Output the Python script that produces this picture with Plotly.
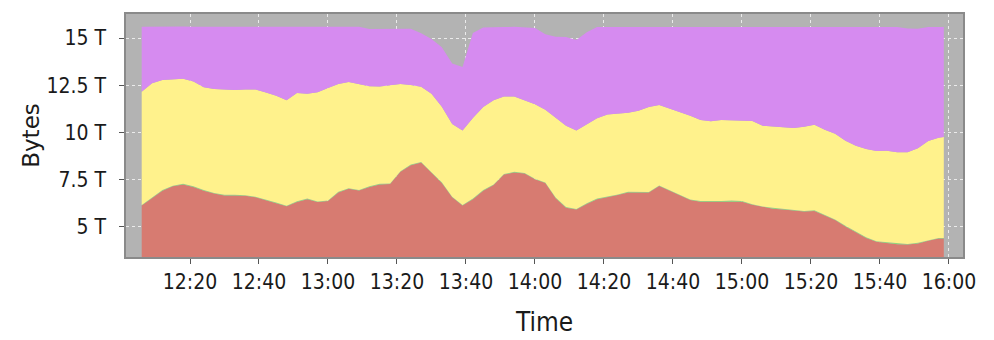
import plotly.graph_objects as go

# ---- data (values in TB) ----
times = ["12:06", "12:09", "12:12", "12:15", "12:18", "12:21", "12:24", "12:27", "12:30", "12:33",
         "12:36", "12:39", "12:42", "12:45", "12:48", "12:51", "12:54", "12:57", "13:00", "13:03",
         "13:06", "13:09", "13:12", "13:15", "13:18", "13:21", "13:24", "13:27", "13:30", "13:33",
         "13:36", "13:39", "13:42", "13:45", "13:48", "13:51", "13:54", "13:57", "14:00", "14:03",
         "14:06", "14:09", "14:12", "14:15", "14:18", "14:21", "14:24", "14:27", "14:30", "14:33",
         "14:36", "14:39", "14:42", "14:45", "14:48", "14:51", "14:54", "14:57", "15:00", "15:03",
         "15:06", "15:09", "15:12", "15:15", "15:18", "15:21", "15:24", "15:27", "15:30", "15:33",
         "15:36", "15:39", "15:42", "15:45", "15:48", "15:51", "15:54", "15:57", "15:58:30"]

series_red = [6.13, 6.52, 6.92, 7.15, 7.25, 7.12, 6.92, 6.77, 6.67, 6.67,
              6.65, 6.57, 6.42, 6.27, 6.09, 6.32, 6.47, 6.32, 6.37, 6.82,
              7.02, 6.93, 7.12, 7.25, 7.27, 7.92, 8.27, 8.41, 7.87, 7.32,
              6.57, 6.13, 6.47, 6.92, 7.22, 7.77, 7.88, 7.83, 7.52, 7.32,
              6.52, 6.02, 5.92, 6.22, 6.47, 6.57, 6.69, 6.82, 6.82, 6.82,
              7.17, 6.92, 6.66, 6.42, 6.34, 6.34, 6.34, 6.37, 6.34, 6.17,
              6.05, 5.97, 5.92, 5.85, 5.82, 5.85, 5.62, 5.37, 5.02, 4.72,
              4.42, 4.22, 4.15, 4.09, 4.07, 4.12, 4.27, 4.39, 4.39]

series_green = [0.03, 0.04, 0.03, 0.03, 0.04, 0.03, 0.03, 0.03, 0.04, 0.03,
                0.03, 0.03, 0.04, 0.03, 0.03, 0.04, 0.03, 0.03, 0.03, 0.04,
                0.03, 0.03, 0.03, 0.04, 0.03, 0.03, 0.04, 0.03, 0.03, 0.04,
                0.03, 0.03, 0.04, 0.03, 0.03, 0.03, 0.04, 0.03, 0.03, 0.03,
                0.04, 0.03, 0.03, 0.04, 0.03, 0.03, 0.03, 0.04, 0.03, 0.03,
                0.03, 0.04, 0.03, 0.03, 0.04, 0.03, 0.03, 0.03, 0.04, 0.03,
                0.03, 0.04, 0.03, 0.03, 0.03, 0.04, 0.03, 0.03, 0.04, 0.03,
                0.03, 0.03, 0.04, 0.03, 0.03, 0.04, 0.03, 0.03, 0.03]

series_yellow = [5.99, 6.05, 5.83, 5.64, 5.55, 5.55, 5.45, 5.50, 5.55, 5.55,
                 5.60, 5.68, 5.65, 5.65, 5.58, 5.73, 5.55, 5.78, 5.95, 5.70,
                 5.62, 5.59, 5.30, 5.14, 5.20, 4.62, 4.20, 3.98, 4.15, 4.00,
                 3.85, 3.94, 4.25, 4.40, 4.45, 4.10, 3.99, 3.84, 3.95, 3.85,
                 4.20, 4.30, 4.15, 4.15, 4.25, 4.35, 4.28, 4.18, 4.30, 4.50,
                 4.25, 4.30, 4.41, 4.43, 4.28, 4.23, 4.29, 4.25, 4.25, 4.41,
                 4.28, 4.30, 4.32, 4.36, 4.45, 4.52, 4.50, 4.53, 4.50, 4.55,
                 4.67, 4.77, 4.84, 4.84, 4.85, 5.00, 5.25, 5.30, 5.34]

series_purple = [3.45, 3.00, 2.82, 2.78, 2.77, 2.90, 3.20, 3.30, 3.35, 3.35,
                 3.32, 3.32, 3.50, 3.65, 3.90, 3.52, 3.55, 3.47, 3.25, 3.05,
                 2.93, 3.05, 3.03, 3.06, 2.98, 2.91, 2.98, 2.83, 2.90, 3.15,
                 3.20, 3.37, 4.50, 4.20, 3.88, 3.68, 3.68, 3.88, 4.03, 4.00,
                 4.30, 4.70, 4.80, 4.90, 4.83, 4.63, 4.58, 4.55, 4.43, 4.23,
                 4.13, 4.33, 4.48, 4.70, 4.93, 4.98, 4.92, 4.93, 4.96, 4.97,
                 5.22, 5.28, 5.31, 5.34, 5.28, 5.18, 5.43, 5.65, 6.03, 6.28,
                 6.46, 6.56, 6.56, 6.62, 6.55, 6.33, 6.03, 5.86, 5.82]

y_tickvals = [5, 7.5, 10, 12.5, 15]
y_ticktext = ["5 T", "7.5 T", "10 T", "12.5 T", "15 T"]
x_tick_times = ["12:20", "12:40", "13:00", "13:20", "13:40", "14:00", "14:20",
                "14:40", "15:00", "15:20", "15:40", "16:00"]

DAY = "2024-01-01 "
x = [DAY + t for t in times]

fig = go.Figure()
layers = [
    ("red", series_red, "#d77b71"),
    ("green", series_green, "#8fd97a"),
    ("yellow", series_yellow, "#fff28c"),
    ("purple", series_purple, "#d68bf0"),
]
for name, vals, col in layers:
    fig.add_trace(go.Scatter(
        x=x, y=vals, name=name, stackgroup="one", mode="lines",
        line=dict(width=0, color=col), fillcolor=col, hoverinfo="skip",
    ))

COND = "DejaVu Sans Condensed, Liberation Sans Narrow, Arial Narrow, sans-serif"
tick_font = dict(family=COND, size=21, color="#1a1a1a")

# page body has an 8px default margin, so the figure is sized to fit the window
fig.update_layout(
    width=986, height=332,
    margin=dict(l=118, r=31, t=6, b=83, autoexpand=False),
    paper_bgcolor="white", plot_bgcolor="#b3b3b3",
    showlegend=False,
)
fig.update_xaxes(
    type="date", automargin=False,
    range=[DAY + "12:01:27", DAY + "16:04:04"],
    tickvals=[DAY + t for t in x_tick_times],
    ticktext=x_tick_times,
    ticks="outside", ticklen=5, tickcolor="#555555",
    tickfont=tick_font, ticklabelstandoff=0,
    showgrid=True, gridcolor="#ebebeb", gridwidth=1, griddash="3px,3px",
    showline=True, linecolor="#8a8a8a", linewidth=1.5, mirror=True,
    zeroline=False,
    title=dict(text="Time", font=dict(family=COND, size=26, color="#1a1a1a"), standoff=20),
)
fig.update_yaxes(
    automargin=False,
    range=[3.41, 16.27],
    tickvals=y_tickvals, ticktext=y_ticktext,
    ticks="outside", ticklen=5, tickcolor="#555555",
    tickfont=tick_font, ticklabelstandoff=9,
    showgrid=True, gridcolor="#ebebeb", gridwidth=1, griddash="3px,3px",
    showline=True, linecolor="#8a8a8a", linewidth=1.5, mirror=True,
    zeroline=False,
    title=dict(text="Bytes", font=dict(family="DejaVu Sans, sans-serif", size=23, color="#1a1a1a"),
               standoff=0),
)

fig.write_html("out.html")
